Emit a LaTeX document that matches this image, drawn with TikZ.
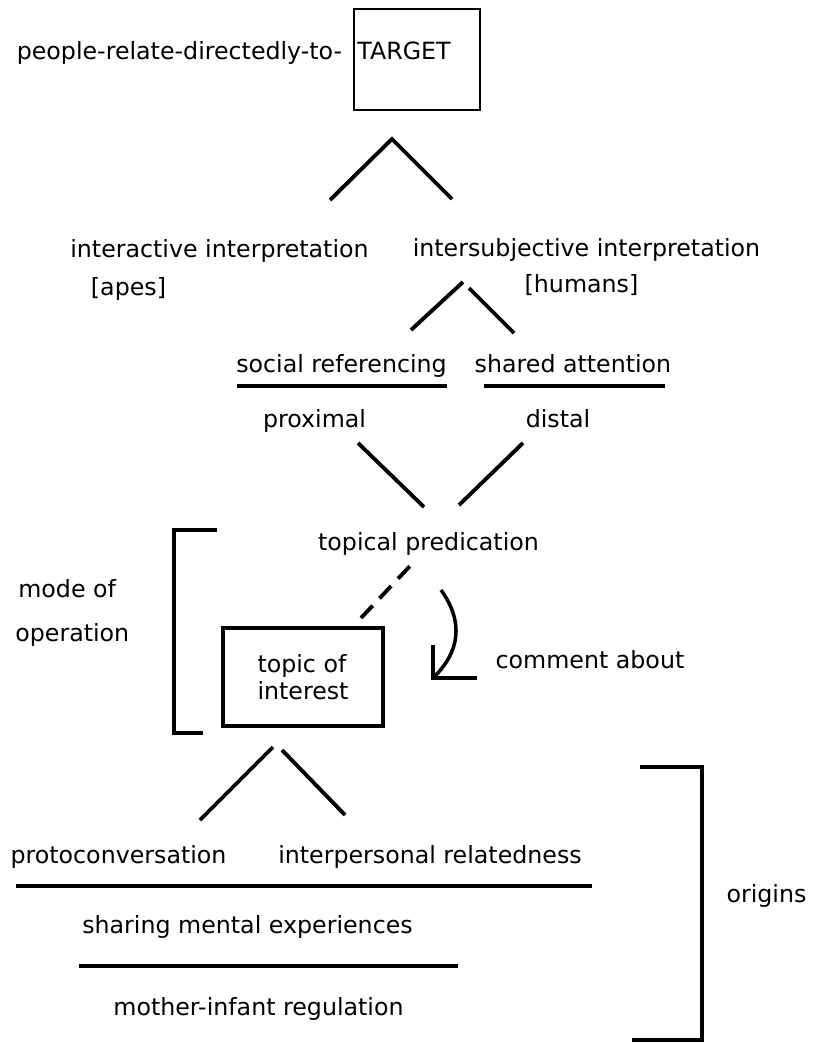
\documentclass[tikz,border=0pt]{standalone}
\usepackage{fontspec}
\setmainfont{DejaVu Sans}
\usepackage{tikz}
\usetikzlibrary{positioning, calc}

\tikzset{
  lbl/.style={inner sep=0pt, anchor=base, font=\fontsize{13.5}{15.3}\selectfont},
  stroke/.style={line width=2.2pt},
  boxed/.style={draw, line width=2.2pt, inner sep=0pt},
}

\begin{document}
\begin{tikzpicture}[x=0.02cm, y=-0.02cm]
  \useasboundingbox (0,0) rectangle (814,1043);
  % top
  \node[lbl] (people) at (179.5,60) {people-relate-directedly-to-};
  \node[draw, line width=1.4pt, minimum width=2.52cm, minimum height=2.02cm] (target) at (417,59.5) {};
  \node[lbl] (tgt) at (404,60) {TARGET};
  \coordinate (a1) at (330,200); \coordinate (a0) at (392,139); \coordinate (a2) at (452,199);
  \draw[stroke] (a1) -- (a0) -- (a2);

  % interpretations
  \node[lbl] (inter) at (219.5,258) {interactive interpretation};
  \node[lbl] (apes) at (128.5,296) {[apes]};
  \node[lbl] (intsub) at (586.5,257) {intersubjective interpretation};
  \node[lbl] (humans) at (581.5,293) {[humans]};
  \coordinate (b1) at (411,330); \coordinate (b0) at (463,282);
  \coordinate (b2) at (469,288); \coordinate (b3) at (514,333);
  \draw[stroke] (b1) -- (b0);
  \draw[stroke] (b2) -- (b3);

  \node[lbl] (social) at (341.5,372) {social referencing};
  \node[lbl] (shared) at (573,372) {shared attention};
  \coordinate (u1) at (237,386); \coordinate (u2) at (447,386);
  \coordinate (u3) at (484,386); \coordinate (u4) at (665,386);
  \draw[stroke] (u1) -- (u2);
  \draw[stroke] (u3) -- (u4);
  \node[lbl] (proximal) at (314.5,427) {proximal};
  \node[lbl] (distal) at (558,427) {distal};
  \coordinate (c1) at (358,443); \coordinate (c2) at (424,507);
  \coordinate (c3) at (523,443); \coordinate (c4) at (459,505);
  \draw[stroke] (c1) -- (c2);
  \draw[stroke] (c3) -- (c4);

  % mode of operation
  \node[lbl] (topical) at (428.5,550) {topical predication};
  \coordinate (m1) at (217,530); \coordinate (m2) at (174,530);
  \coordinate (m3) at (174,733); \coordinate (m4) at (203,733);
  \draw[stroke] (m1) -- (m2) -- (m3) -- (m4);
  \node[lbl, anchor=base west] (mode) at (18,597) {mode of};
  \node[lbl, anchor=base west] (oper) at (15,641) {operation};
  \node[boxed, minimum width=3.2cm, minimum height=1.96cm, align=left, lbl, anchor=center] (topic) at (303,677) {topic of\\interest};
  \coordinate (d1) at (361,618); \coordinate (d2) at (410,566);
  \draw[stroke, dash pattern=on 0.34cm off 0.2cm] (d1) -- (d2);
  \coordinate (cmt) at (433,678);
  \coordinate (k1) at (441,590);
  \draw[line width=2pt] (k1) .. controls (464,622) and (460,652) .. (cmt);
  \draw[line width=2pt] ($(cmt)+(0,-33)$) -- (cmt) -- ($(cmt)+(44,0)$);
  \node[lbl] (comment) at (590,668) {comment about};

  % origins
  \coordinate (e1) at (200,820); \coordinate (e0) at (273,747);
  \coordinate (e2) at (282,750); \coordinate (e3) at (345,815);
  \draw[stroke] (e1) -- (e0);
  \draw[stroke] (e2) -- (e3);
  \node[lbl] (proto) at (118.5,863) {protoconversation};
  \node[lbl] (interp) at (430,863) {interpersonal relatedness};
  \coordinate (v1) at (16,886); \coordinate (v2) at (592,886);
  \draw[stroke] (v1) -- (v2);
  \node[lbl] (sharing) at (247.5,933) {sharing mental experiences};
  \coordinate (w1) at (79,966); \coordinate (w2) at (458,966);
  \draw[stroke] (w1) -- (w2);
  \node[lbl] (mother) at (258.5,1015) {mother-infant regulation};
  \coordinate (r1) at (640,767); \coordinate (r2) at (702,767);
  \coordinate (r3) at (702,1040); \coordinate (r4) at (632,1040);
  \draw[stroke] (r1) -- (r2) -- (r3) -- (r4);
  \node[lbl] (origins) at (766.5,902) {origins};
\end{tikzpicture}
\end{document}
